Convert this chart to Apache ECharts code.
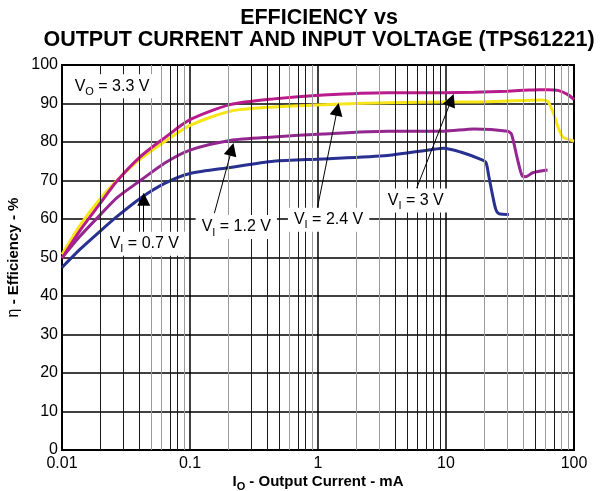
<!DOCTYPE html>
<html>
<head>
<meta charset="utf-8">
<title>Efficiency vs Output Current (TPS61221)</title>
<script src="https://cdn.jsdelivr.net/npm/echarts@6/dist/echarts.min.js"></script>
<style>
  html, body { margin: 0; padding: 0; background: #fff; }
  #chart { width: 603px; height: 491px; }
</style>
</head>
<body>
<div id="chart"></div>
<script>
// output current in mA (x) and efficiency in % (y), one pair of arrays per input voltage
var io07 = [0.01, 0.0138, 0.0198, 0.0268, 0.041, 0.064, 0.1, 0.206, 0.45, 1.1, 3.5, 7.6, 9.6, 13, 18.7, 20.5, 21.6, 23.2, 24.5, 25.9, 31];
var eff07 = [47.4, 52.1, 56.8, 60.6, 65.4, 69.3, 71.8, 73.4, 75.0, 75.6, 76.5, 78.0, 78.4, 77.4, 75.5, 74.7, 71.1, 65.9, 62.5, 61.4, 61.2];

var io12 = [0.01, 0.0138, 0.0198, 0.0268, 0.041, 0.064, 0.1, 0.206, 0.45, 1.1, 3.5, 9.6, 16.5, 30.3, 32.5, 36.2, 39.6, 42.1, 47.5, 62.2];
var eff12 = [49.9, 55.5, 61.0, 65.5, 70.0, 74.6, 77.9, 80.4, 81.3, 82.1, 82.8, 82.8, 83.4, 82.8, 82.0, 75.5, 71.1, 71.0, 72.0, 72.7];

var io24 = [0.01, 0.0138, 0.0198, 0.0268, 0.041, 0.064, 0.1, 0.206, 0.45, 1.1, 3.5, 9.6, 16.5, 55.2, 62.2, 68.8, 75.3, 81.7, 91.8, 100];
var eff24 = [50.8, 58.3, 65.2, 70.0, 75.6, 80.2, 84.3, 88.0, 89.1, 89.7, 90.2, 90.4, 90.4, 90.9, 90.6, 87.6, 83.7, 81.3, 80.6, 80.2];

var io30 = [0.01, 0.0138, 0.0198, 0.0268, 0.041, 0.064, 0.1, 0.206, 0.45, 1.1, 3.5, 9.6, 16.5, 30.4, 45, 53, 62, 75, 89.6, 100];
var eff30 = [49.8, 57.0, 64.0, 69.8, 76.2, 81.2, 85.8, 89.7, 91.2, 92.2, 92.8, 92.8, 92.9, 93.2, 93.5, 93.6, 93.6, 93.4, 92.3, 91.0];

// log paper: decades and the 2..9 lines inside each one
var decades = [0.01, 0.1, 1, 10];
var minorMult = [2, 3, 4, 5, 6, 7, 8, 9];
var grayMinor = [0.05, 0.06, 0.09, 0.2, 0.6, 0.9, 2, 3, 20, 30, 40, 60, 80, 90];

var FONT = '"Liberation Sans", Arial, sans-serif';

function pairs(xs, ys) {
  return xs.map(function (x, i) { return [x, ys[i]]; });
}

var minorLines = [];
decades.forEach(function (d) {
  minorMult.forEach(function (m) {
    var v = +(d * m).toPrecision(3);
    minorLines.push({
      xAxis: v,
      lineStyle: { color: grayMinor.indexOf(v) >= 0 ? '#9a9a9a' : '#1a1a1a', width: 1, type: 'solid' }
    });
  });
});

// rich text styles for the V_x subscripts
var subRich = {
  n: { fontSize: 16, fontFamily: FONT, color: '#000' },
  s: { fontSize: 11, fontFamily: FONT, color: '#000', padding: [11, 0, 0, 0] }
};

function note(text, x, y) {
  return {
    coord: [x, y],
    label: { formatter: text }
  };
}

function arrow(x1, y1, x2, y2) {
  return [{ coord: [x1, y1] }, { coord: [x2, y2] }];
}

var myChart = echarts.init(document.getElementById('chart'));

var option = {
  animation: false,
  backgroundColor: '#fff',
  title: {
    text: 'EFFICIENCY vs\nOUTPUT CURRENT AND INPUT VOLTAGE (TPS61221)',
    left: 319,
    top: 7,
    padding: 0,
    textAlign: 'center',
    textStyle: { fontFamily: FONT, fontSize: 21.5, fontWeight: 'bold', color: '#000', lineHeight: 22 }
  },
  grid: {
    left: 62, right: 29, top: 65, bottom: 41,
    outerBoundsMode: 'none',
    show: true, borderColor: '#000', borderWidth: 2
  },
  xAxis: {
    type: 'log',
    logBase: 10,
    min: 0.01,
    max: 100,
    axisLine: { lineStyle: { color: '#000', width: 2 } },
    axisTick: { show: false },
    axisLabel: {
      color: '#000', fontSize: 16, fontFamily: FONT, margin: 6,
      formatter: function (v) { return String(+v.toPrecision(3)); }
    },
    splitLine: { show: true, lineStyle: { color: '#000', width: 1.5 } },
    name: '{b|I}{s|O}{b| - Output Current - mA}',
    nameLocation: 'middle',
    nameGap: 24,
    nameMoveOverlap: false,
    nameTextStyle: {
      lineHeight: 16,
      rich: {
        b: { fontSize: 15, fontWeight: 'bold', fontFamily: FONT, color: '#000' },
        s: { fontSize: 11, fontWeight: 'bold', fontFamily: FONT, color: '#000', padding: [10, 0, 0, 0] }
      }
    }
  },
  yAxis: {
    type: 'value',
    min: 0,
    max: 100,
    interval: 10,
    axisLine: { show: true, lineStyle: { color: '#000', width: 2 } },
    axisTick: { show: false },
    axisLabel: { color: '#000', fontSize: 16, fontFamily: FONT, margin: 4 },
    splitLine: { show: true, lineStyle: { color: '#000', width: 1.5 } },
    name: '{e|η}{b| - Efficiency - %}',
    nameLocation: 'middle',
    nameGap: 40,
    nameMoveOverlap: false,
    nameTextStyle: {
      rich: {
        e: { fontSize: 16, fontFamily: FONT, color: '#000' },
        b: { fontSize: 15, fontWeight: 'bold', fontFamily: FONT, color: '#000' }
      }
    }
  },
  series: [
    {
      // minor grid lines of the log paper
      name: 'minor',
      type: 'line',
      data: [],
      silent: true,
      z: 1,
      markLine: {
        silent: true,
        symbol: ['none', 'none'],
        label: { show: false },
        data: minorLines
      }
    },
    {
      name: 'VI = 0.7 V', type: 'line', z: 2, showSymbol: false, smooth: 0.25,
      lineStyle: { color: '#28318f', width: 3 },
      data: pairs(io07, eff07)
    },
    {
      name: 'VI = 1.2 V', type: 'line', z: 2, showSymbol: false, smooth: 0.25,
      lineStyle: { color: '#93278f', width: 3 },
      data: pairs(io12, eff12)
    },
    {
      name: 'VI = 2.4 V', type: 'line', z: 2, showSymbol: false, smooth: 0.25,
      lineStyle: { color: '#f7e517', width: 3 },
      data: pairs(io24, eff24)
    },
    {
      name: 'VI = 3 V', type: 'line', z: 2, showSymbol: false, smooth: 0.25,
      lineStyle: { color: '#b81c8c', width: 3 },
      data: pairs(io30, eff30)
    },
    {
      // annotations: white label boxes and arrows
      name: 'notes',
      type: 'line',
      data: [],
      silent: true,
      z: 3,
      markPoint: {
        symbol: 'rect',
        symbolSize: 1,
        itemStyle: { color: 'rgba(0,0,0,0)' },
        label: {
          show: true,
          position: 'inside',
          backgroundColor: '#fff',
          padding: [3, 6],
          lineHeight: 18,
          color: '#000',
          fontSize: 16,
          fontFamily: FONT,
          rich: subRich
        },
        data: [
          note('{n|V}{s|O}{n| = 3.3 V}', 0.0246, 94.5),
          note('{n|V}{s|I}{n| = 0.7 V}', 0.044, 53.6),
          note('{n|V}{s|I}{n| = 1.2 V}', 0.23, 57.9),
          note('{n|V}{s|I}{n| = 2.4 V}', 1.21, 59.8),
          note('{n|V}{s|I}{n| = 3 V}', 5.8, 64.8)
        ]
      },
      markLine: {
        silent: true,
        symbol: ['none', 'triangle'],
        symbolSize: 13,
        label: { show: false },
        lineStyle: { color: '#000', width: 1, type: 'solid' },
        itemStyle: { color: '#000' },
        data: [
          arrow(0.0435, 56.0, 0.0435, 65.1),
          arrow(0.155, 61.5, 0.212, 78.1),
          arrow(0.97, 61.5, 1.416, 88.5),
          arrow(5.9, 68.0, 11.0, 90.9)
        ]
      }
    }
  ]
};

myChart.setOption(option);
window.addEventListener('resize', function () {
  myChart.resize();
});
</script>
</body>
</html>
